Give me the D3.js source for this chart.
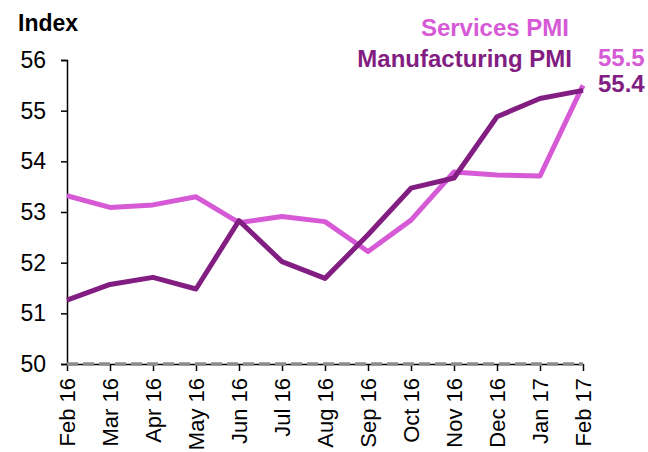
<!DOCTYPE html>
<html>
<head>
<meta charset="utf-8">
<script src="https://cdn.jsdelivr.net/npm/d3@7"></script>
<style>
  body { margin: 0; background: #fff; }
  svg { display: block; font-family: "Liberation Sans", Arial, sans-serif; }
</style>
</head>
<body>
<svg id="chart"></svg>
<script>
const months = ["Feb 16", "Mar 16", "Apr 16", "May 16", "Jun 16", "Jul 16", "Aug 16",
                "Sep 16", "Oct 16", "Nov 16", "Dec 16", "Jan 17", "Feb 17"];
const services = [53.32, 53.09, 53.14, 53.3, 52.79, 52.91, 52.81, 52.22, 52.84, 53.79, 53.73, 53.71, 55.5];
const manufacturing = [51.26, 51.57, 51.71, 51.48, 52.83, 52.02, 51.69, 52.55, 53.47, 53.67, 54.88, 55.24, 55.4];
const yTicks = [50, 51, 52, 53, 54, 55, 56];

const width = 648, height = 452;
const plotLeft = 67, plotRight = 583, plotTop = 60, plotBottom = 364;

const svg = d3.select("#chart")
  .attr("width", width)
  .attr("height", height);

const x = d3.scalePoint()
  .domain(months)
  .range([plotLeft, plotRight]);

const y = d3.scaleLinear()
  .domain([50, 56])
  .range([plotBottom, plotTop]);

// y axis
const yAxis = svg.append("g")
  .attr("transform", `translate(${plotLeft},0)`)
  .call(d3.axisLeft(y).tickValues(yTicks).tickFormat(d3.format("d")).tickSize(6).tickPadding(15));
yAxis.select(".domain").attr("stroke", "#000").attr("stroke-width", 1.5);
yAxis.selectAll(".tick line").attr("stroke", "#000").attr("stroke-width", 1.5);
yAxis.selectAll(".tick text")
  .attr("fill", "#000")
  .style("font-size", "23px");

// x axis
const xAxis = svg.append("g")
  .attr("transform", `translate(0,${plotBottom})`)
  .call(d3.axisBottom(x).tickSize(7).tickSizeOuter(0));
xAxis.select(".domain").attr("stroke", "#000").attr("stroke-width", 1.5);
xAxis.selectAll(".tick line").attr("stroke", "#000").attr("stroke-width", 1.5);
xAxis.selectAll(".tick text")
  .attr("fill", "#000")
  .style("font-size", "22px")
  .attr("text-anchor", "end")
  .attr("dy", "0.35em")
  .attr("transform", "translate(0,6) rotate(-90)")
  .attr("x", -8)
  .attr("y", 0);

// dashed 50 line
svg.append("line")
  .attr("x1", plotLeft)
  .attr("x2", plotRight)
  .attr("y1", y(50))
  .attr("y2", y(50))
  .attr("stroke", "#8c8c8c")
  .attr("stroke-width", 3.5)
  .attr("stroke-dasharray", "11,5");

const line = d3.line()
  .x((d, i) => x(months[i]))
  .y(d => y(d));

svg.append("path")
  .datum(services)
  .attr("fill", "none")
  .attr("stroke", "#d65ad6")
  .attr("stroke-width", 5)
  .attr("stroke-linejoin", "round")
  .attr("d", line);

svg.append("path")
  .datum(manufacturing)
  .attr("fill", "none")
  .attr("stroke", "#821e82")
  .attr("stroke-width", 5)
  .attr("stroke-linejoin", "round")
  .attr("d", line);

// labels
svg.append("text")
  .attr("x", 18)
  .attr("y", 31)
  .style("font-size", "23px")
  .style("font-weight", "bold")
  .text("Index");

svg.append("text")
  .attr("x", 569)
  .attr("y", 36)
  .attr("text-anchor", "end")
  .attr("fill", "#d65ad6")
  .style("font-size", "24px")
  .style("font-weight", "bold")
  .text("Services PMI");

svg.append("text")
  .attr("x", 572)
  .attr("y", 67)
  .attr("text-anchor", "end")
  .attr("fill", "#821e82")
  .style("font-size", "24px")
  .style("font-weight", "bold")
  .text("Manufacturing PMI");

svg.append("text")
  .attr("x", 598)
  .attr("y", 66)
  .attr("fill", "#d65ad6")
  .style("font-size", "24px")
  .style("font-weight", "bold")
  .text(services[services.length - 1].toFixed(1));

svg.append("text")
  .attr("x", 598)
  .attr("y", 92)
  .attr("fill", "#821e82")
  .style("font-size", "24px")
  .style("font-weight", "bold")
  .text(manufacturing[manufacturing.length - 1].toFixed(1));
</script>
</body>
</html>
